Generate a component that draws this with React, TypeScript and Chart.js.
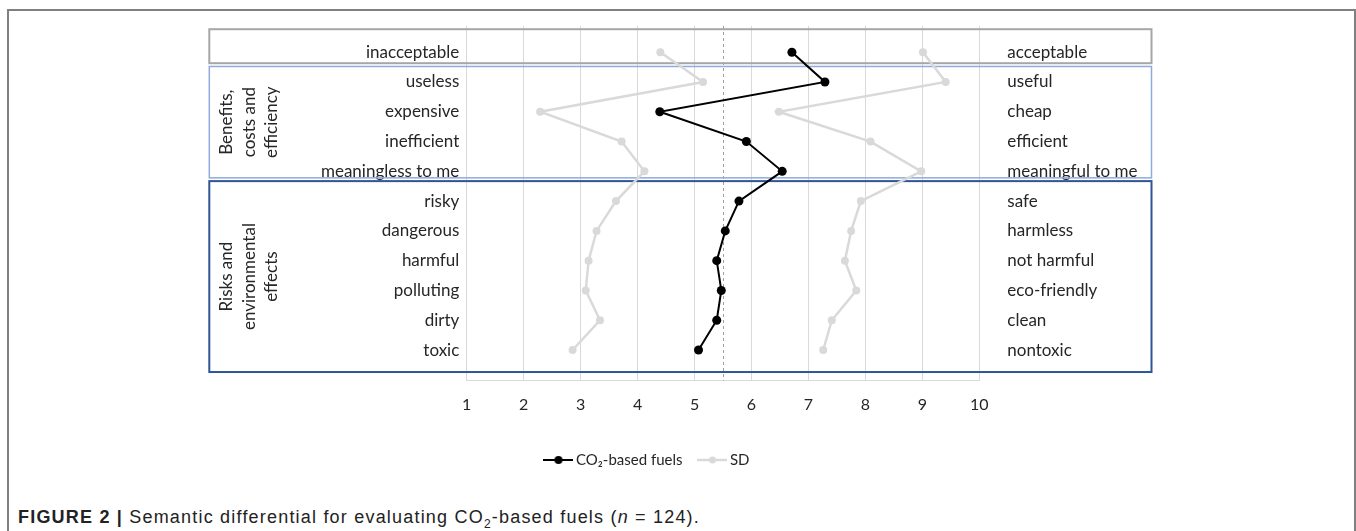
import React, { useEffect, useRef } from "react";
import { Chart, registerables } from "chart.js";
Chart.register(...registerables);

const LEFT_LABELS = ["inacceptable", "useless", "expensive", "inefficient", "meaningless to me", "risky", "dangerous", "harmful", "polluting", "dirty", "toxic"];
const RIGHT_LABELS = ["acceptable", "useful", "cheap", "efficient", "meaningful to me", "safe", "harmless", "not harmful", "eco-friendly", "clean", "nontoxic"];
const MEAN = [6.71, 7.29, 4.39, 5.91, 6.54, 5.78, 5.54, 5.39, 5.47, 5.39, 5.07];
const SD_LOW = [4.4, 5.15, 2.29, 3.72, 4.12, 3.62, 3.28, 3.14, 3.09, 3.34, 2.86];
const SD_HIGH = [9.01, 9.41, 6.48, 8.09, 8.98, 7.92, 7.75, 7.64, 7.84, 7.41, 7.26];
const X_MIN = 1;
const X_MAX = 10;
const MIDPOINT = 5.5;
const SERIES_NAMES = ["CO\u2082-based fuels", "SD"];
const GROUP_LINES = [[], ["Benefits,", "costs and", "efficiency"], ["Risks and", "environmental", "effects"]];
const GROUP_ROWS = [[0, 0], [1, 4], [5, 10]];

const FONT = "Lato";
const TEXT = "#262626";
const GROUP_STYLE = [
  { color: "#a6a6a6", width: 2, padTop: 23, padBottom: 11 },
  { color: "#8faadc", width: 1.5, padTop: 15.5, padBottom: 6.5 },
  { color: "#2f5597", width: 2, padTop: 20, padBottom: 22 },
];

function marker(color: string, lw: number, r: number) {
  const c = document.createElement("canvas");
  c.width = 30;
  c.height = 12;
  const g = c.getContext("2d")!;
  g.strokeStyle = color;
  g.lineWidth = lw;
  g.beginPath();
  g.moveTo(0, 6);
  g.lineTo(30, 6);
  g.stroke();
  g.fillStyle = color;
  g.beginPath();
  g.arc(15, 6, r, 0, Math.PI * 2);
  g.fill();
  return c;
}

const groupPlugin = {
  id: "groupBoxes",
  beforeDatasetsDraw(chart: any) {
    const ctx = chart.ctx;
    const y = chart.scales.y;
    const x = chart.scales.x;
    const { left, right, top, bottom } = chart.chartArea;
    ctx.save();
    ctx.strokeStyle = "#a0a0a0";
    ctx.lineWidth = 1;
    ctx.setLineDash([3, 3]);
    const mx = Math.round(x.getPixelForValue(MIDPOINT)) + 0.5;
    ctx.beginPath();
    ctx.moveTo(mx, top);
    ctx.lineTo(mx, bottom);
    ctx.stroke();
    ctx.restore();

    const bl = left - 257.4;
    const br = right + 172.2;
    GROUP_ROWS.forEach(([a, b], gi) => {
      const st = GROUP_STYLE[gi];
      const t = y.getPixelForValue(a) - st.padTop;
      const bt = y.getPixelForValue(b) + st.padBottom;
      ctx.save();
      ctx.strokeStyle = st.color;
      ctx.lineWidth = st.width;
      ctx.strokeRect(bl, t, br - bl, bt - t);
      ctx.restore();
      const lines = GROUP_LINES[gi];
      if (lines.length) {
        ctx.save();
        ctx.translate(bl + 40, (t + bt) / 2);
        ctx.rotate(-Math.PI / 2);
        ctx.font = `17px ${FONT}`;
        ctx.fillStyle = TEXT;
        ctx.textAlign = "center";
        ctx.textBaseline = "middle";
        lines.forEach((ln, i) => {
          ctx.fillText(ln, 0, (i - (lines.length - 1) / 2) * 22.5);
        });
        ctx.restore();
      }
    });
  },
};

function yAxis(labels: string[], position: string, padding: number, width: number) {
  return {
    type: "linear",
    position,
    reverse: true,
    min: -0.88,
    max: 11.03,
    grid: { display: false, drawTicks: false },
    border: { display: false },
    afterBuildTicks: (a: any) => {
      a.ticks = labels.map((_, i) => ({ value: i }));
    },
    ticks: {
      autoSkip: false,
      padding,
      font: { family: FONT, size: 17 },
      color: TEXT,
      callback: (_v: any, i: number) => labels[i],
    },
    afterFit: (s: any) => {
      s.width = width;
      s.paddingTop = 0;
      s.paddingBottom = 0;
    },
  };
}

export default function App() {
  const ref = useRef<HTMLCanvasElement>(null);
  useEffect(() => {
    const m1 = marker("#000000", 2, 4);
    const m2 = marker("#d9d9d9", 2.5, 3.5);
    const chart = new Chart(ref.current!, {
      type: "line",
      data: {
        datasets: [
          {
            label: SERIES_NAMES[0],
            data: MEAN.map((v, i) => ({ x: v, y: i })),
            borderColor: "#000000",
            backgroundColor: "#000000",
            borderWidth: 2,
            pointRadius: 4.5,
            pointBorderWidth: 0,
            order: 0,
          },
          {
            label: SERIES_NAMES[1],
            data: SD_LOW.map((v, i) => ({ x: v, y: i })),
            borderColor: "#d9d9d9",
            backgroundColor: "#d9d9d9",
            borderWidth: 2.5,
            pointRadius: 4,
            pointBorderWidth: 0,
            order: 1,
          },
          {
            label: SERIES_NAMES[1],
            data: SD_HIGH.map((v, i) => ({ x: v, y: i })),
            borderColor: "#d9d9d9",
            backgroundColor: "#d9d9d9",
            borderWidth: 2.5,
            pointRadius: 4,
            pointBorderWidth: 0,
            order: 1,
          },
        ],
      },
      options: {
        responsive: false,
        animation: false,
        events: [],
        layout: { padding: { top: 10, left: 8, right: 0, bottom: 8.5 } },
        scales: {
          x: {
            type: "linear",
            min: X_MIN,
            max: X_MAX,
            ticks: { stepSize: 1, font: { family: FONT, size: 16 }, color: TEXT, padding: 14.3 },
            grid: { color: "#d9d9d9", drawTicks: false },
            border: { color: "#d9d9d9" },
            afterFit: (s: any) => {
              s.height = 51.8;
            },
          },
          y: yAxis(LEFT_LABELS, "left", 7.4, 321.7),
          y2: yAxis(RIGHT_LABELS, "right", 28, 173.7),
        },
        plugins: {
          tooltip: { enabled: false },
          legend: {
            position: "bottom",
            labels: {
              usePointStyle: true,
              pointStyleWidth: 20,
              font: { family: FONT, size: 15 },
              color: TEXT,
              padding: 20,
              generateLabels: () => [
                { text: SERIES_NAMES[0], pointStyle: m1 as any, datasetIndex: 0, fillStyle: "#000", strokeStyle: "#000", lineWidth: 0, hidden: false, fontColor: TEXT },
                { text: SERIES_NAMES[1], pointStyle: m2 as any, datasetIndex: 1, fillStyle: "#d9d9d9", strokeStyle: "#d9d9d9", lineWidth: 0, hidden: false, fontColor: TEXT },
              ],
            },
          },
        },
      },
      plugins: [groupPlugin],
    });
    return () => chart.destroy();
  }, []);

  return (
    <div style={{ position: "absolute", left: 0, top: 0, width: 1356, height: 531, overflow: "hidden", background: "#fff" }}>
      <div style={{ position: "absolute", left: 7, top: 9, width: 1345, height: 600, borderTop: "2px solid #808080", borderLeft: "2px solid #808080", borderRight: "2px solid #808080" }} />
      <canvas ref={ref} width={1016} height={470} style={{ position: "absolute", left: 137, top: 16, width: 1016, height: 470 }} />
      <div style={{ position: "absolute", left: 18, top: 507, fontFamily: "'Liberation Sans', Arial, sans-serif", fontSize: 18, letterSpacing: 1.2, color: "#222", whiteSpace: "nowrap" }}>
        <b>FIGURE 2 |</b> Semantic differential for evaluating CO<sub style={{ fontSize: 12 }}>2</sub>-based fuels (<i>n</i> = 124).
      </div>
    </div>
  );
}
